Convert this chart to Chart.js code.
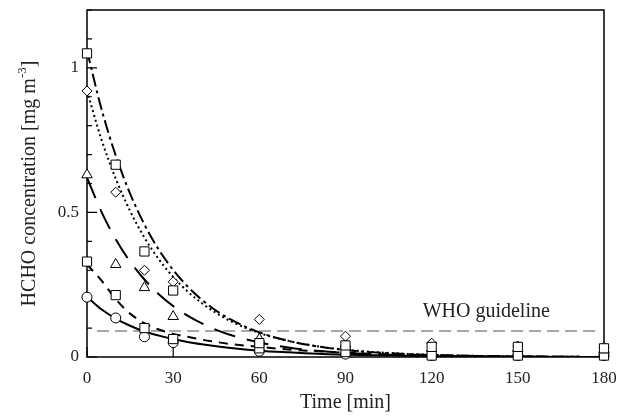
<!DOCTYPE html>
<html>
<head>
<meta charset="utf-8">
<script src="https://cdn.jsdelivr.net/npm/chart.js@4"></script>
<style>
   body{margin:0;background:#fff;}
</style>
</head>
<body>
<canvas id="chart" width="621" height="416"></canvas>
<script>

/* measured times [min] */
let sampleT = [0, 10, 20, 30, 60, 90, 120, 150, 180];

/* measured concentrations [mg m-3] */
let squareHigh = [1.05, 0.665, 0.365, 0.23, 0.048, 0.04, 0.035, 0.035, 0.03];
let diamond    = [0.92, 0.57, 0.30, 0.26, 0.13, 0.072, 0.048, 0.038, 0.034];
let triangle   = [0.63, 0.32, 0.24, 0.14, 0.062, 0.045, 0.03, 0.03, 0.025];
let squareLow  = [0.33, 0.214, 0.10, 0.062, 0.03, 0.017, 0.005, 0.005, 0.005];
let circle     = [0.207, 0.135, 0.07, 0.05, 0.02, 0.01, 0.005, 0.005, 0.005];

/* fitted curves */
let curveT = [0, 5, 10, 15, 20, 25, 30, 35, 40, 45, 50, 60, 70, 80, 90, 100, 120, 150, 180];

let fitDashDot = [1.06, 0.859, 0.697, 0.565, 0.458, 0.371, 0.301, 0.244, 0.198, 0.16, 0.13, 0.085, 0.056, 0.037, 0.024, 0.016, 0.007, 0.002, 0];
let fitDotted  = [0.92, 0.753, 0.617, 0.505, 0.413, 0.338, 0.277, 0.227, 0.186, 0.152, 0.124, 0.083, 0.056, 0.0375, 0.025, 0.017, 0.0076, 0.002, 0];
let fitLong    = [0.62, 0.503, 0.407, 0.33, 0.268, 0.217, 0.176, 0.143, 0.116, 0.094, 0.076, 0.05, 0.033, 0.0215, 0.014, 0.0093, 0.004, 0.001, 0];
let fitShort   = [0.32, 0.265, 0.2, 0.15, 0.117, 0.095, 0.08, 0.07, 0.06, 0.052, 0.045, 0.035, 0.026, 0.02, 0.015, 0.011, 0.006, 0.002, 0];
let fitSolid   = [0.207, 0.165, 0.133, 0.108, 0.088, 0.074, 0.062, 0.052, 0.044, 0.037, 0.031, 0.022, 0.016, 0.011, 0.008, 0.006, 0.003, 0.001, 0];

/* WHO guideline */
let whoX = [3.5, 178];
let whoLevel = 0.09;

let yLabels = [0, 0.5, 1];

let serif = "'Liberation Serif', 'Times New Roman', serif";

function pts(xs, ys){

   return xs.map(function(x, i){

      return {x:x, y:ys[i]};

   });

}

function markers(ys, style, r){

   return {
      type:"scatter",
      data:pts(sampleT, ys),
      pointStyle:style,
      pointRadius:r,
      pointBorderWidth:1,
      pointBorderColor:"#000",
      pointBackgroundColor:"#fff",
      showLine:false,
      clip:false,
      order:1
   };

}

function curve(ys, dash){

   return {
      type:"line",
      data:pts(curveT, ys),
      borderColor:"#000",
      borderWidth:2,
      borderDash:dash,
      pointRadius:0,
      cubicInterpolationMode:"monotone",
      fill:false,
      order:2
   };

}

let framePlugin = {

   id:"frame",

   beforeDatasetsDraw:function(chart){

      let ctx = chart.ctx;
      let a = chart.chartArea;
      let x = chart.scales.x;
      let y = chart.scales.y;

      ctx.save();
      ctx.strokeStyle = "#000";
      ctx.lineWidth = 1.5;
      ctx.strokeRect(a.left, a.top, a.right - a.left, a.bottom - a.top);

      ctx.lineWidth = 1.2;
      ctx.beginPath();

      y.ticks.forEach(function(t){

         let py = y.getPixelForValue(t.value);
         let major = yLabels.some(function(v){ return Math.abs(v - t.value) < 1e-6; });

         ctx.moveTo(a.left, py);
         ctx.lineTo(a.left + (major ? 10 : 5), py);

      });

      x.ticks.forEach(function(t){

         let px = x.getPixelForValue(t.value);

         ctx.moveTo(px, a.bottom);
         ctx.lineTo(px, a.bottom - 10);

      });

      ctx.stroke();
      ctx.restore();

   },

   afterDraw:function(chart){

      let ctx = chart.ctx;
      let a = chart.chartArea;
      let x = chart.scales.x;
      let y = chart.scales.y;

      ctx.save();
      ctx.fillStyle = "#222";

      /* WHO label */
      ctx.font = "20px " + serif;
      ctx.textAlign = "center";
      ctx.textBaseline = "middle";
      ctx.fillText("WHO guideline", x.getPixelForValue(139), y.getPixelForValue(0.155));

      /* y title with superscript */
      let main = "HCHO concentration [mg m";
      let sup = "-3";
      let tail = "]";

      ctx.font = "20px " + serif;
      let wMain = ctx.measureText(main).width;
      let wTail = ctx.measureText(tail).width;
      ctx.font = "13px " + serif;
      let wSup = ctx.measureText(sup).width;

      let total = wMain + wSup + wTail;

      ctx.translate(30, (a.top + a.bottom) / 2);
      ctx.rotate(-Math.PI / 2);
      ctx.textAlign = "left";

      ctx.font = "20px " + serif;
      ctx.fillText(main, -total / 2, 0);
      ctx.font = "13px " + serif;
      ctx.fillText(sup, -total / 2 + wMain, -7);
      ctx.font = "20px " + serif;
      ctx.fillText(tail, -total / 2 + wMain + wSup, 0);

      ctx.restore();

   }

};

let ctx = document.getElementById("chart").getContext("2d");

new Chart(ctx, {

   data:{

      datasets:[

         markers(squareHigh, "rect", 6.5),
         markers(diamond, "rectRot", 5),
         markers(triangle, "triangle", 6),
         markers(squareLow, "rect", 6.5),
         markers(circle, "circle", 5),

         curve(fitDashDot, [13, 4, 3, 4]),
         curve(fitDotted, [2, 3]),
         curve(fitLong, [22, 12]),
         curve(fitShort, [9, 7]),
         curve(fitSolid, []),

         {
            type:"line",
            data:pts(whoX, [whoLevel, whoLevel]),
            borderColor:"#8c8c8c",
            borderWidth:1.5,
            borderDash:[12, 6],
            pointRadius:0,
            order:3
         }

      ]

   },

   options:{

      responsive:false,
      animation:false,

      layout:{
         padding:{left:0, right:17, top:10, bottom:0}
      },

      plugins:{
         legend:{display:false},
         tooltip:{enabled:false}
      },

      scales:{

         x:{
            type:"linear",
            min:0,
            max:180,
            ticks:{
               stepSize:30,
               color:"#222",
               padding:11,
               font:{family:serif, size:17}
            },
            grid:{display:false, drawTicks:false},
            border:{display:false},
            title:{
               display:true,
               text:"Time [min]",
               color:"#222",
               padding:{top:0, bottom:1},
               font:{family:serif, size:20}
            },
            afterFit:function(s){

               s.height = 59;
               s.paddingLeft = 0;
               s.paddingRight = 0;

            }
         },

         y:{
            type:"linear",
            min:0,
            max:1.2,
            ticks:{
               stepSize:0.1,
               color:"#222",
               padding:8,
               font:{family:serif, size:17},
               callback:function(v){

                  let hit = yLabels.find(function(l){ return Math.abs(l - v) < 1e-6; });

                  return hit === undefined ? "" : String(hit);

               }
            },
            grid:{display:false, drawTicks:false},
            border:{display:false},
            afterFit:function(s){

               s.width = 87;
               s.paddingTop = 0;
               s.paddingBottom = 0;

            }
         }

      }

   },

   plugins:[framePlugin]

});

</script>
</body>
</html>
